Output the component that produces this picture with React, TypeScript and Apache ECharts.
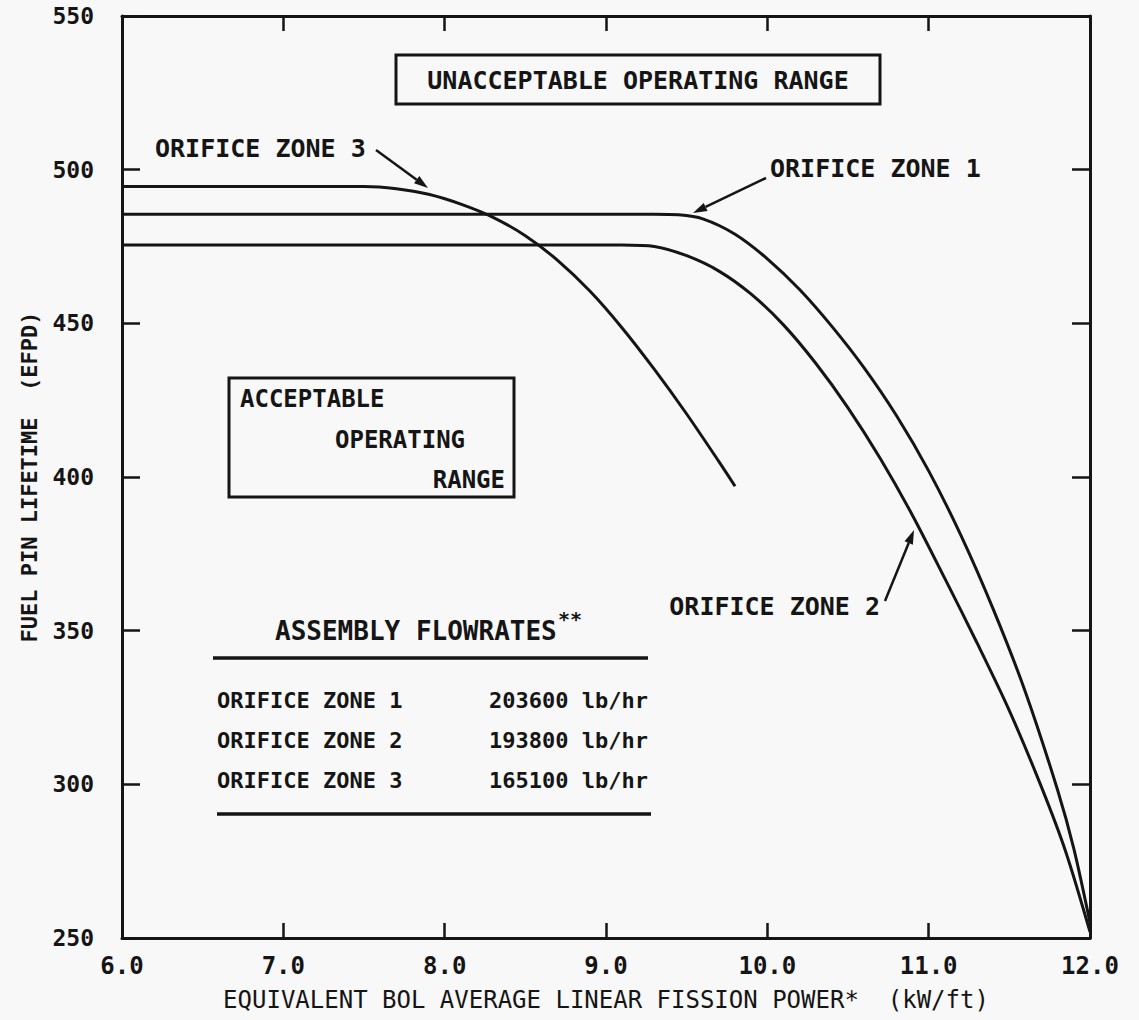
import React, { useEffect, useRef } from "react";
import * as echarts from "echarts";

// ---- data ----
const xMin = 6;
const xMax = 12;
const xStep = 1;
const yMin = 250;
const yMax = 550;
const yStep = 50;

const zone1: number[][] = [
  [6.0, 485.5], [8.0, 485.5], [9.3, 485.5], [9.45, 485.3], [9.6, 484], [9.8, 479],
  [10.0, 471], [10.2, 461], [10.4, 449], [10.6, 435.5], [10.8, 420], [11.0, 402],
  [11.2, 381], [11.4, 357], [11.6, 330], [11.8, 298], [11.9, 279], [12.0, 255],
];
const zone2: number[][] = [
  [6.0, 475.5], [8.0, 475.5], [9.1, 475.5], [9.3, 475], [9.5, 472], [9.7, 467],
  [9.9, 459.5], [10.1, 449.5], [10.3, 437], [10.5, 422.5], [10.7, 406], [10.9, 387.5],
  [11.1, 367], [11.3, 346], [11.5, 324], [11.7, 299], [11.85, 278], [12.0, 252],
];
const zone3: number[][] = [
  [6.0, 494.5], [7.0, 494.5], [7.5, 494.5], [7.7, 493.8], [7.9, 492], [8.1, 488.8],
  [8.3, 484.5], [8.5, 478.5], [8.7, 470.5], [8.9, 460.5], [9.1, 448.5], [9.3, 435],
  [9.5, 420.5], [9.7, 405], [9.8, 397],
];

const tableZones = ["ORIFICE ZONE 1", "ORIFICE ZONE 2", "ORIFICE ZONE 3"];
const tableFlows = ["203600 lb/hr", "193800 lb/hr", "165100 lb/hr"];

const xTitle = "EQUIVALENT BOL AVERAGE LINEAR FISSION POWER*  (kW/ft)";
const yTitle = "FUEL PIN LIFETIME  (EFPD)";

// ---- styling ----
const FONT = "'DejaVu Sans Mono', 'Liberation Mono', monospace";
const INK = "#151515";
const BG = "#f8f8f8";

function txt(text: string, x: number, y: number, size: number, align = "left", weight = "bold") {
  return {
    type: "text",
    x,
    y,
    style: {
      text,
      fill: INK,
      font: `${weight} ${size}px ${FONT}`,
      textAlign: align,
      textVerticalAlign: "middle",
    },
  };
}

function arrow(x1: number, y1: number, x2: number, y2: number) {
  const ang = Math.atan2(y2 - y1, x2 - x1);
  const L = 14;
  const W = 4.5;
  const c = Math.cos(ang);
  const s = Math.sin(ang);
  const bx = x2 - L * c;
  const by = y2 - L * s;
  return {
    type: "group",
    children: [
      {
        type: "line",
        shape: { x1, y1, x2: bx, y2: by },
        style: { stroke: INK, lineWidth: 2.5 },
      },
      {
        type: "polygon",
        shape: {
          points: [
            [x2, y2],
            [bx + W * s, by - W * c],
            [bx - W * s, by + W * c],
          ],
        },
        style: { fill: INK },
      },
    ],
  };
}

function rectBox(x: number, y: number, w: number, h: number) {
  return {
    type: "rect",
    shape: { x, y, width: w, height: h },
    style: { fill: "none", stroke: INK, lineWidth: 3 },
  };
}

function hline(x1: number, x2: number, y: number) {
  return {
    type: "line",
    shape: { x1, y1: y, x2, y2: y },
    style: { stroke: INK, lineWidth: 3.5 },
  };
}

const axisLine = { show: true, onZero: false, lineStyle: { color: INK, width: 3 } };
const axisTick = { show: true, inside: true, length: 15, lineStyle: { color: INK, width: 2.5 } };
const labelStyle = { fontFamily: FONT, fontWeight: "bold", color: INK };

function lineSeries(name: string, data: number[][]) {
  return {
    name,
    type: "line",
    data,
    showSymbol: false,
    smooth: 0.3,
    lineStyle: { color: INK, width: 3 },
    xAxisIndex: 0,
    yAxisIndex: 0,
    z: 3,
  };
}

export default function App() {
  const ref = useRef<HTMLDivElement>(null);

  useEffect(() => {
    if (!ref.current) return;
    const chart = echarts.init(ref.current, null, { renderer: "svg" });

    const graphics: any[] = [
      // unacceptable region box
      rectBox(396, 55, 484, 49),
      txt("UNACCEPTABLE OPERATING RANGE", 638, 80, 25, "center"),
      // acceptable region box
      rectBox(229, 378, 285, 119),
      txt("ACCEPTABLE", 240, 399, 24),
      txt("OPERATING", 335, 440, 24),
      txt("RANGE", 505, 480, 24, "right"),
      // curve labels
      txt("ORIFICE ZONE 3", 155, 148, 25),
      arrow(376, 150, 428, 188),
      txt("ORIFICE ZONE 1", 770, 168, 25),
      arrow(766, 178, 693, 213),
      txt("ORIFICE ZONE 2", 880, 606, 25, "right"),
      arrow(885, 601, 914, 530),
      // flowrate table
      txt("ASSEMBLY FLOWRATES", 275, 631, 26),
      txt("**", 558, 619, 20),
      hline(213, 648, 658),
      hline(217, 651, 814),
    ];
    const rowY = [700, 740, 780];
    tableZones.forEach((z, i) => {
      graphics.push(txt(z, 217, rowY[i], 22));
      graphics.push(txt(tableFlows[i], 648, rowY[i], 22, "right"));
    });

    chart.setOption({
      animation: false,
      backgroundColor: BG,
      grid: { left: 122, right: 49, top: 16, bottom: 82, show: false },
      xAxis: [
        {
          type: "value",
          min: xMin,
          max: xMax,
          interval: xStep,
          position: "bottom",
          axisLine,
          axisTick,
          splitLine: { show: false },
          axisLabel: {
            ...labelStyle,
            fontSize: 24,
            margin: 16,
            formatter: (v: number) => v.toFixed(1),
          },
          name: xTitle,
          nameLocation: "middle",
          nameGap: 50,
          nameTextStyle: { fontFamily: FONT, fontSize: 24, color: INK, fontWeight: "normal" },
        },
        {
          type: "value",
          min: xMin,
          max: xMax,
          interval: xStep,
          position: "top",
          axisLine,
          axisTick,
          splitLine: { show: false },
          axisLabel: { show: false },
        },
      ],
      yAxis: [
        {
          type: "value",
          min: yMin,
          max: yMax,
          interval: yStep,
          position: "left",
          axisLine,
          axisTick: { ...axisTick, length: 18 },
          splitLine: { show: false },
          axisLabel: { ...labelStyle, fontSize: 23, margin: 28 },
          name: yTitle,
          nameLocation: "middle",
          nameGap: 82,
          nameRotate: 90,
          nameTextStyle: { fontFamily: FONT, fontSize: 22, color: INK, fontWeight: "bold" },
        },
        {
          type: "value",
          min: yMin,
          max: yMax,
          interval: yStep,
          position: "right",
          axisLine,
          axisTick: { ...axisTick, length: 18 },
          splitLine: { show: false },
          axisLabel: { show: false },
        },
      ],
      series: [
        lineSeries("ORIFICE ZONE 1", zone1),
        lineSeries("ORIFICE ZONE 2", zone2),
        lineSeries("ORIFICE ZONE 3", zone3),
      ],
      graphic: graphics,
    });

    return () => chart.dispose();
  }, []);

  return (
    <div
      ref={ref}
      style={{ position: "absolute", left: 0, top: 0, width: 1139, height: 1020 }}
    />
  );
}
